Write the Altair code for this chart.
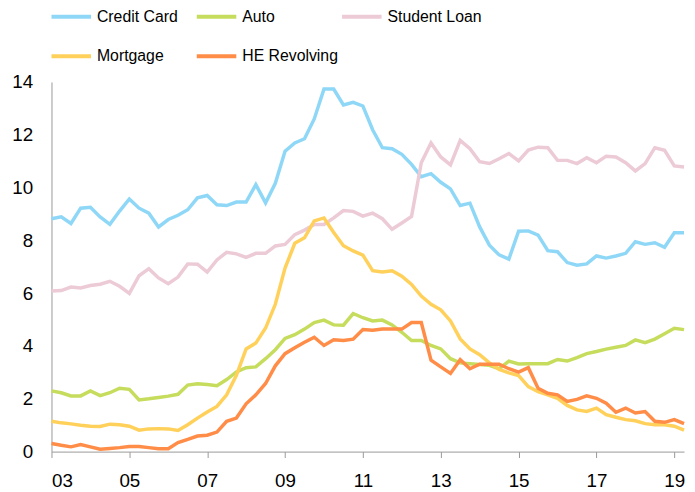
import altair as alt
import pandas as pd

start_year = 2003
series_names = ["Credit Card", "Auto", "Student Loan", "Mortgage", "HE Revolving"]
series_colors = ["#8FD7F7", "#C6DC5C", "#ECCAD6", "#FFD05A", "#FF8C47"]
x_tick_years = [2003, 2005, 2007, 2009, 2011, 2013, 2015, 2017, 2019]
y_ticks = [0, 2, 4, 6, 8, 10, 12, 14]

credit_card = [8.82, 8.89, 8.64, 9.22, 9.25, 8.89, 8.61, 9.11, 9.57, 9.22,
               9.03, 8.51, 8.79, 8.95, 9.16, 9.61, 9.70, 9.35, 9.32, 9.45,
               9.45, 10.11, 9.42, 10.16, 11.38, 11.69, 11.85, 12.60, 13.73, 13.73,
               13.13, 13.23, 13.09, 12.19, 11.51, 11.47, 11.26, 10.88, 10.41, 10.53,
               10.20, 9.95, 9.32, 9.41, 8.51, 7.82, 7.45, 7.29, 8.35, 8.36,
               8.20, 7.61, 7.57, 7.16, 7.06, 7.11, 7.41, 7.33, 7.41, 7.51,
               7.95, 7.85, 7.91, 7.74, 8.29, 8.29]
auto = [2.30, 2.23, 2.11, 2.11, 2.30, 2.12, 2.23, 2.40, 2.36, 1.96,
        2.00, 2.05, 2.10, 2.17, 2.52, 2.57, 2.54, 2.50, 2.73, 3.02,
        3.18, 3.21, 3.52, 3.86, 4.29, 4.43, 4.64, 4.89, 4.98, 4.80,
        4.79, 5.23, 5.07, 4.95, 4.98, 4.80, 4.52, 4.21, 4.21, 4.02,
        3.89, 3.52, 3.36, 3.33, 3.30, 3.27, 3.14, 3.43, 3.32, 3.33,
        3.33, 3.33, 3.49, 3.43, 3.56, 3.71, 3.79, 3.88, 3.95, 4.02,
        4.23, 4.13, 4.26, 4.46, 4.67, 4.62]
student_loan = [6.08, 6.10, 6.23, 6.20, 6.29, 6.34, 6.45, 6.26, 5.99, 6.66,
                6.93, 6.58, 6.36, 6.61, 7.11, 7.10, 6.80, 7.26, 7.55, 7.49,
                7.36, 7.51, 7.51, 7.79, 7.85, 8.22, 8.39, 8.60, 8.60, 8.85,
                9.13, 9.10, 8.92, 9.03, 8.82, 8.42, 8.66, 8.91, 10.94, 11.69,
                11.16, 10.86, 11.79, 11.47, 10.98, 10.91, 11.09, 11.29, 11.01, 11.42,
                11.53, 11.51, 11.03, 11.03, 10.91, 11.13, 10.94, 11.19, 11.16, 10.94,
                10.63, 10.91, 11.51, 11.41, 10.82, 10.78]
mortgage = [1.15, 1.09, 1.05, 1.00, 0.96, 0.95, 1.04, 1.02, 0.96, 0.81,
            0.86, 0.87, 0.86, 0.80, 1.02, 1.27, 1.50, 1.71, 2.15, 2.89,
            3.89, 4.11, 4.68, 5.58, 6.95, 7.89, 8.10, 8.74, 8.85, 8.30,
            7.80, 7.60, 7.44, 6.85, 6.80, 6.85, 6.64, 6.33, 5.89, 5.58,
            5.37, 4.95, 4.27, 3.89, 3.67, 3.36, 3.11, 2.98, 2.88, 2.46,
            2.27, 2.15, 2.02, 1.75, 1.58, 1.52, 1.65, 1.40, 1.30, 1.21,
            1.17, 1.06, 1.02, 1.02, 0.96, 0.81]
he_revolving = [0.31, 0.24, 0.18, 0.27, 0.18, 0.09, 0.12, 0.15, 0.19, 0.19,
                0.15, 0.11, 0.11, 0.34, 0.46, 0.59, 0.62, 0.74, 1.15, 1.27,
                1.81, 2.15, 2.58, 3.25, 3.71, 3.93, 4.14, 4.33, 4.02, 4.24,
                4.21, 4.26, 4.62, 4.60, 4.64, 4.64, 4.64, 4.89, 4.89, 3.46,
                3.21, 2.96, 3.48, 3.14, 3.31, 3.31, 3.31, 3.14, 3.01, 3.18,
                2.40, 2.21, 2.15, 1.90, 1.98, 2.11, 2.02, 1.83, 1.49, 1.65,
                1.46, 1.52, 1.15, 1.11, 1.21, 1.06]

all_series = [credit_card, auto, student_loan, mortgage, he_revolving]
rows = []
for name, vals in zip(series_names, all_series):
    for i, v in enumerate(vals):
        rows.append({"t": start_year + i / 4, "series": name, "value": v})
df = pd.DataFrame(rows)

font = "Liberation Sans"

chart = alt.Chart(df).mark_line(strokeWidth=3.5).encode(
    x=alt.X("t:Q",
            scale=alt.Scale(domain=[2003, 2019.25], nice=False, zero=False),
            axis=alt.Axis(values=x_tick_years,
                          labelExpr="substring(toString(datum.value), 2, 4)",
                          title=None, grid=False, domainColor="#999999",
                          tickColor="#999999", tickSize=6, labelPadding=14,
                          labelFontSize=19, labelFont=font, labelColor="#000000")),
    y=alt.Y("value:Q",
            scale=alt.Scale(domain=[0, 14], nice=False),
            axis=alt.Axis(values=y_ticks, title=None, grid=False, ticks=False,
                          tickSize=0, domainColor="#999999", labelPadding=19,
                          labelFontSize=19, labelFont=font, labelColor="#000000")),
    color=alt.Color("series:N",
                    scale=alt.Scale(domain=series_names, range=series_colors),
                    legend=alt.Legend(orient="none", legendX=-2, legendY=-88,
                                      direction="horizontal", columns=3,
                                      gridAlign="all", columnPadding=-4, rowPadding=10,
                                      symbolType="stroke", symbolSize=1600,
                                      symbolStrokeWidth=4, labelFontSize=16,
                                      labelFont=font, labelColor="#000000",
                                      labelOffset=4, labelLimit=300, padding=0,
                                      title=None)),
).properties(
    width=640, height=374,
    autosize=alt.AutoSizeParams(type="none"),
    padding={"left": 44, "top": 72, "right": 3, "bottom": 36},
).configure_view(stroke=None)

chart.save("out.html", embed_options={"renderer": "svg", "actions": False})
